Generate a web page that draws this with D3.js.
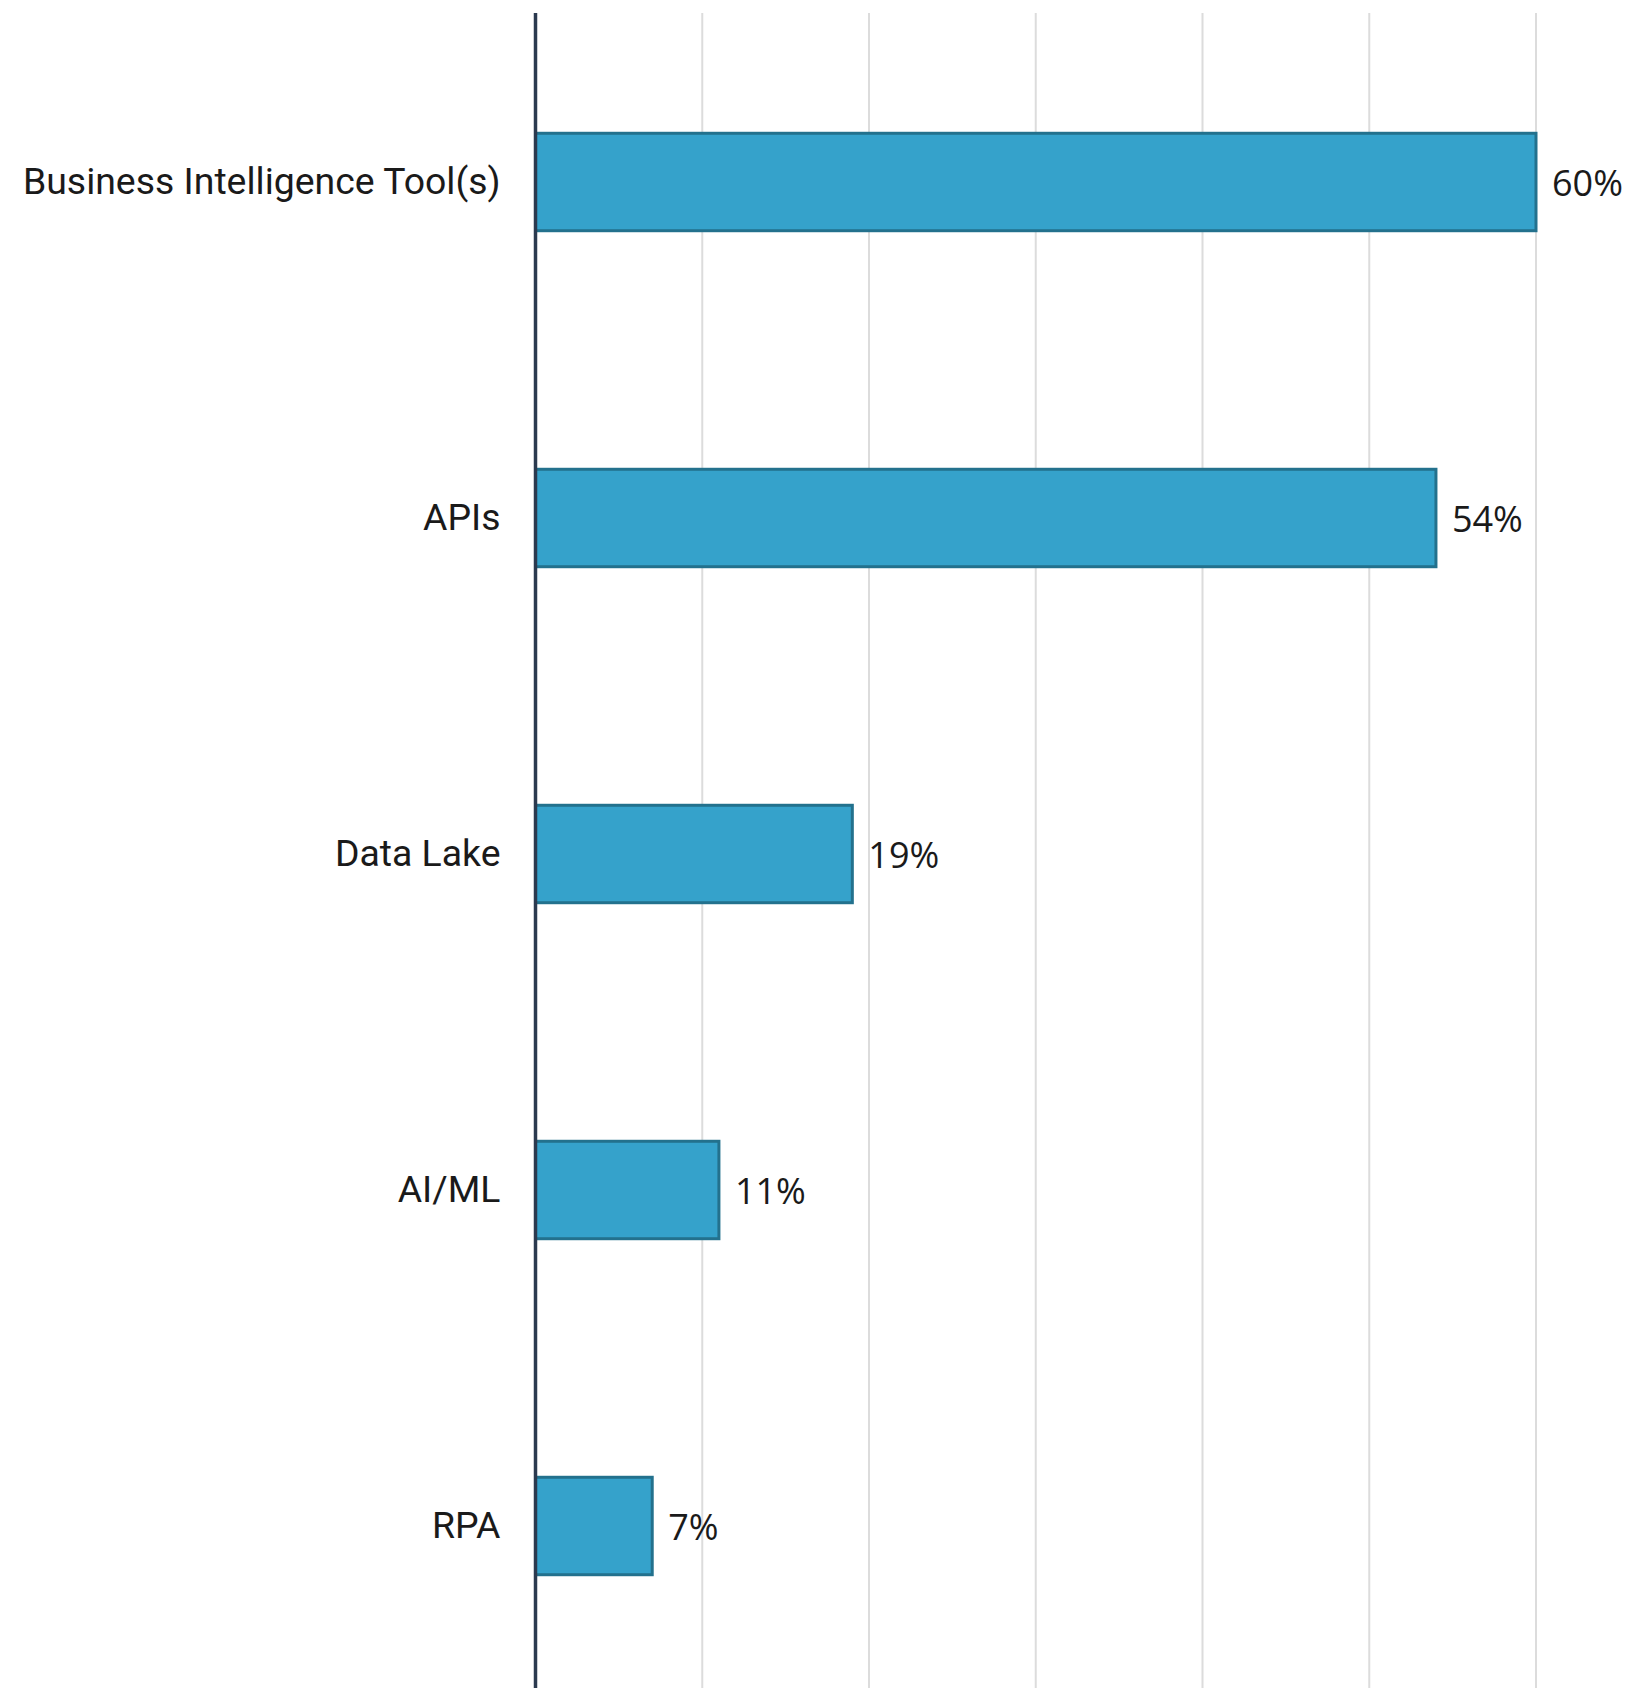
<!DOCTYPE html>
<html>
<head>
<meta charset="utf-8">
<script src="https://cdn.jsdelivr.net/npm/d3@7"></script>
<style>
  html, body { margin: 0; padding: 0; background: #ffffff; }
  svg { display: block; }
</style>
</head>
<body>
<svg id="chart" width="1630" height="1688"></svg>
<script>
// Survey results: share of respondents using each technology
const categories = ["Business Intelligence Tool(s)", "APIs", "Data Lake", "AI/ML", "RPA"];
const values = [60, 54, 19, 11, 7];
const valueLabels = ["60%", "54%", "19%", "11%", "7%"];
const gridTicks = [10, 20, 30, 40, 50, 60];

const width = 1630, height = 1688;
const svg = d3.select("#chart");

const x = d3.scaleLinear().domain([0, 60]).range([535.5, 1536]);
const y = d3.scaleBand()
  .domain(categories)
  .range([14, 1694])
  .paddingInner(0.71)
  .paddingOuter(0.355);

// vertical gridlines
svg.append("g")
  .selectAll("line")
  .data(gridTicks)
  .join("line")
  .attr("x1", d => x(d)).attr("x2", d => x(d))
  .attr("y1", 13).attr("y2", height)
  .attr("stroke", "#dcdcdc")
  .attr("stroke-width", 2);

// bars
svg.append("g")
  .selectAll("rect")
  .data(categories)
  .join("rect")
  .attr("x", x(0))
  .attr("y", d => y(d))
  .attr("width", (d, i) => x(values[i]) - x(0))
  .attr("height", y.bandwidth())
  .attr("fill", "#35a2cb")
  .attr("stroke", "#23718d")
  .attr("stroke-width", 3);

// baseline axis
svg.append("line")
  .attr("x1", x(0)).attr("x2", x(0))
  .attr("y1", 13).attr("y2", height)
  .attr("stroke", "#2b3a4f")
  .attr("stroke-width", 3.5);

// category labels
svg.append("g")
  .selectAll("text")
  .data(categories)
  .join("text")
  .attr("x", x(0) - 35)
  .attr("y", d => y(d) + y.bandwidth() / 2 + 12)
  .attr("text-anchor", "end")
  .attr("font-family", "Roboto, sans-serif")
  .attr("font-size", 37.4)
  .attr("fill", "#1a1a1a")
  .text(d => d);

// value labels
svg.append("g")
  .selectAll("text")
  .data(categories)
  .join("text")
  .attr("x", (d, i) => x(values[i]) + 16)
  .attr("y", d => y(d) + y.bandwidth() / 2 + 14)
  .attr("text-anchor", "start")
  .attr("font-family", "'Open Sans', sans-serif")
  .attr("font-size", 36)
  .attr("fill", "#1a1a1a")
  .text((d, i) => valueLabels[i]);
</script>
</body>
</html>
